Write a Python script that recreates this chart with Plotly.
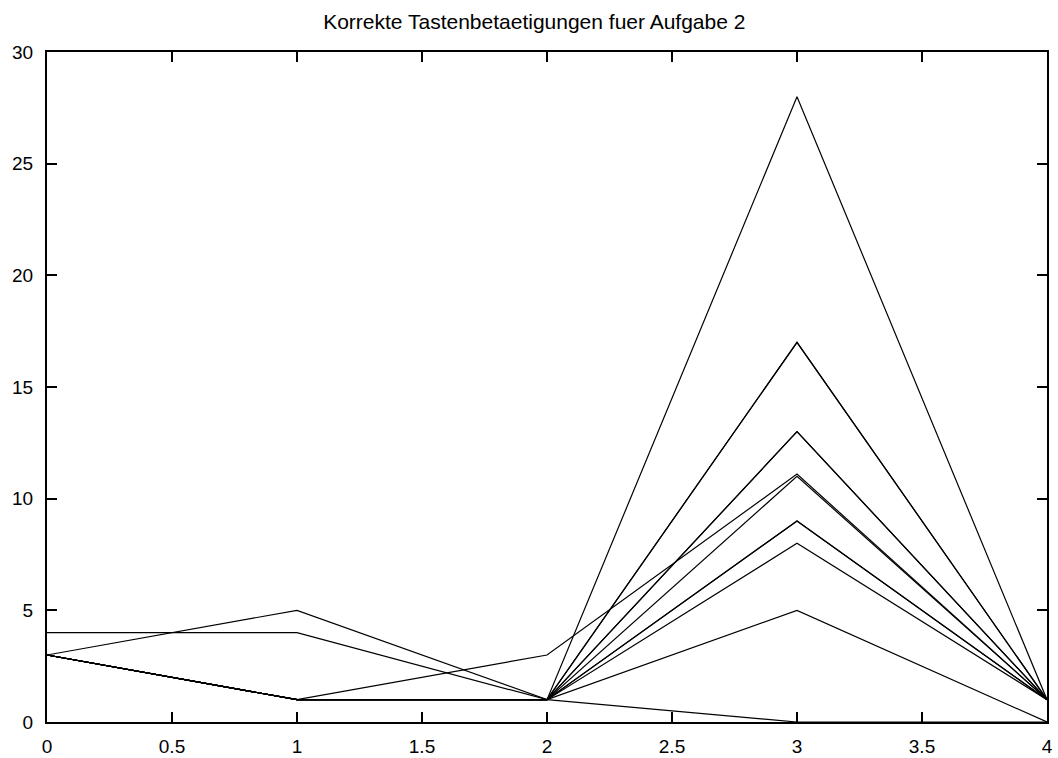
import plotly.graph_objects as go

x_vals = [0, 1, 2, 3, 4]

series = {
    "r1": [3, 1, 1, 28, 1],
    "r2": [3, 1, 1, 17, 1],
    "r3": [4, 4, 1, 17, 1],
    "r4": [3, 1, 1, 13, 1],
    "r5": [3, 5, 1, 13, 1],
    "r6": [3, 1, 1, 11, 1],
    "r7": [3, 1, 3, 11.1, 1],
    "r8": [3, 1, 1, 9, 1],
    "r9": [3, 1, 1, 9, 1],
    "r10": [3, 1, 1, 8, 1],
    "r11": [3, 1, 1, 5, 0],
    "r12": [3, 1, 1, 0, 0],
}

x_ticks = [0, 0.5, 1, 1.5, 2, 2.5, 3, 3.5, 4]
x_tick_labels = ["0", "0.5", "1", "1.5", "2", "2.5", "3", "3.5", "4"]
y_ticks = [0, 5, 10, 15, 20, 25, 30]

title_text = "Korrekte Tastenbetaetigungen fuer Aufgabe 2"

fig = go.Figure()
for name, vals in series.items():
    fig.add_trace(go.Scatter(x=x_vals, y=vals, mode="lines", name=name,
                             line=dict(color="black", width=1.2)))

font_family = "Liberation Sans, Arial, Helvetica, sans-serif"

fig.update_layout(
    width=1058, height=758, autosize=False,
    margin=dict(l=47, r=11, t=52, b=36, autoexpand=False),
    paper_bgcolor="white", plot_bgcolor="white",
    showlegend=False,
    font=dict(family=font_family, size=19, color="black"),
    title=dict(text=title_text, x=0.505, xanchor="center", y=0.972, yanchor="middle",
               font=dict(family=font_family, size=21, color="black")),
)
fig.update_xaxes(range=[0, 4], tickvals=x_ticks, ticktext=x_tick_labels,
                 ticks="inside", ticklen=10, tickwidth=1.5, tickcolor="black",
                 showline=True, linecolor="black", linewidth=2, mirror="ticks",
                 showgrid=False, zeroline=False, ticklabelstandoff=6, automargin=False)
fig.update_yaxes(range=[0, 30], tickvals=y_ticks,
                 ticks="inside", ticklen=10, tickwidth=1.5, tickcolor="black",
                 showline=True, linecolor="black", linewidth=2, mirror="ticks",
                 showgrid=False, zeroline=False, ticklabelstandoff=8, automargin=False)

fig.write_html("out.html")
